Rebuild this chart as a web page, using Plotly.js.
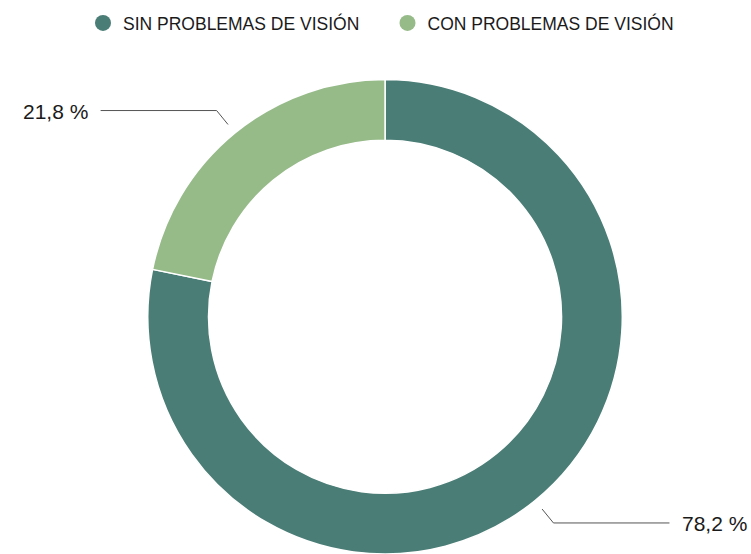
<!DOCTYPE html>
<html>
<head>
<meta charset="utf-8">
<script src="https://cdn.plot.ly/plotly-3.0.1.min.js"></script>
<style>html,body{margin:0;padding:0;background:#fff;}#chart{width:751px;height:554px;}</style>
</head>
<body>
<div id="chart"></div>
<script>
const categories = ['SIN PROBLEMAS DE VISIÓN', 'CON PROBLEMAS DE VISIÓN'];
const values = [78.2, 21.8];
const valueLabels = ['78,2 %', '21,8 %'];
const colors = ['#4a7d76', '#96bb89'];

const W = 751, H = 554;
const dom = {x: [0.1958, 0.8296], y: [0, 0.8565]};
const cx = (dom.x[0] + dom.x[1]) / 2 * W;
const cy = (1 - (dom.y[0] + dom.y[1]) / 2) * H;
const R = Math.min((dom.x[1] - dom.x[0]) * W, (dom.y[1] - dom.y[0]) * H) / 2;

const total = values.reduce((a, b) => a + b, 0);
const shapes = [], annotations = [];
let cum = 0;
values.forEach((v, i) => {
  const mid = (cum + v / 2) / total * 2 * Math.PI; // clockwise from top
  cum += v;
  const sx = Math.sin(mid), sy = -Math.cos(mid);
  const p1 = [cx + (R + 11) * sx, cy + (R + 11) * sy];
  const p2 = [cx + (R + 29) * sx, cy + (R + 29) * sy];
  const dir = sx >= 0 ? 1 : -1;
  const p3 = [p2[0] + dir * 116, p2[1]];
  const px = x => x / W, py = y => 1 - y / H;
  shapes.push({type: 'path', xref: 'paper', yref: 'paper',
    path: `M ${px(p1[0])} ${py(p1[1])} L ${px(p2[0])} ${py(p2[1])} L ${px(p3[0])} ${py(p3[1])}`,
    line: {color: '#555555', width: 1}});
  annotations.push({xref: 'paper', yref: 'paper', x: px(p3[0] + dir * 10.5), y: py(p3[1] + 1),
    xanchor: dir > 0 ? 'left' : 'right', yanchor: 'middle', showarrow: false,
    text: valueLabels[i], font: {family: 'Liberation Sans, Arial, sans-serif', size: 21, color: '#1a1a1a'}});
});

const data = [{
  type: 'pie', values: values, labels: categories, sort: false, direction: 'clockwise', rotation: 0,
  hole: 0.744, domain: dom, textinfo: 'none', hoverinfo: 'label+percent', showlegend: false,
  marker: {colors: colors, line: {color: '#ffffff', width: 1.5}}
}];
categories.forEach((c, i) => data.push({
  type: 'scatter', x: [null], y: [null], mode: 'markers', name: c,
  marker: {color: colors[i], size: 16, symbol: 'circle'}, showlegend: true, hoverinfo: 'skip'
}));

const layout = {
  width: W, height: H, margin: {l: 0, r: 0, t: 0, b: 0},
  paper_bgcolor: '#ffffff', plot_bgcolor: '#ffffff',
  xaxis: {visible: false}, yaxis: {visible: false},
  showlegend: true,
  legend: {orientation: 'h', x: 83 / W, xanchor: 'left', y: 1 - 5 / H, yanchor: 'top',
    entrywidth: 259.5, entrywidthmode: 'pixels',
    font: {family: 'Liberation Sans, Arial, sans-serif', size: 17.5, color: '#1a1a1a'}},
  shapes: shapes, annotations: annotations
};
Plotly.newPlot('chart', data, layout, {displayModeBar: false, staticPlot: true});
</script>
</body>
</html>
